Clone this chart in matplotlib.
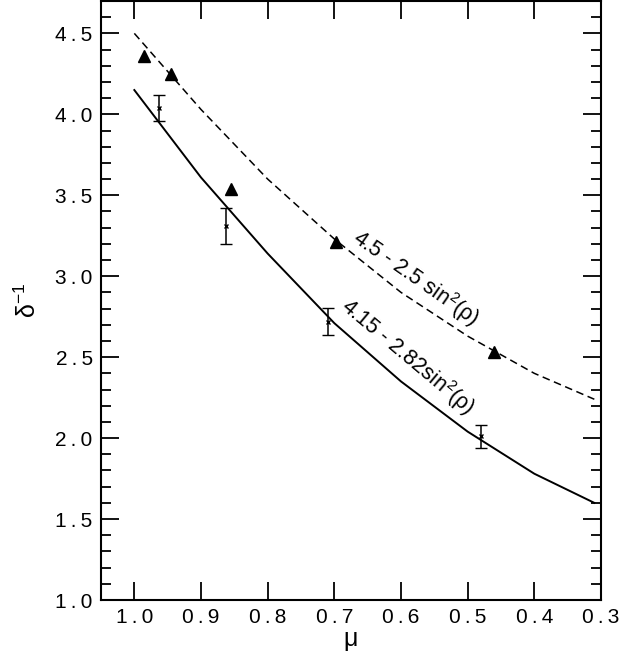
import matplotlib
matplotlib.use('Agg')
import matplotlib.pyplot as plt
from matplotlib.ticker import MultipleLocator

# ── Data ─────────────────────────────────────────────────────────────────────
MU_CURVE     = [1.0, 0.9, 0.8, 0.7, 0.6, 0.5, 0.4, 0.31]
SOLID_CURVE  = [4.15, 3.61, 3.14, 2.71, 2.35, 2.04, 1.78, 1.60]
DASHED_CURVE = [4.50, 4.03, 3.60, 3.23, 2.90, 2.63, 2.40, 2.24]

MU_TRI  = [0.985, 0.945, 0.855, 0.697, 0.46]
TRI_VAL = [4.36, 4.25, 3.54, 3.21, 2.53]

MU_ERR  = [0.963, 0.862, 0.71, 0.48]
ERR_VAL = [4.04, 3.31, 2.72, 2.01]
ERR_BAR = [0.08, 0.11, 0.085, 0.07]

LABEL_DASHED = '4.5 - 2.5 sin$^{2}$(\u03c1)'
LABEL_SOLID  = '4.15 - 2.82sin$^{2}$(\u03c1)'

plt.rcParams['font.family'] = ['Liberation Sans', 'DejaVu Sans']
plt.rcParams['mathtext.fontset'] = 'custom'
plt.rcParams['mathtext.rm'] = 'Liberation Sans'
plt.rcParams['mathtext.it'] = 'Liberation Sans:italic'
plt.rcParams['mathtext.default'] = 'regular'

fig = plt.figure(figsize=(6.22, 6.56), dpi=100)
ax = fig.add_axes([101 / 622, 56 / 656, 500 / 622, 599 / 656])

ax.plot(MU_CURVE, SOLID_CURVE, color='black', lw=1.4)
ax.plot(MU_CURVE, DASHED_CURVE, color='black', lw=1.1, dashes=(5, 3))
ax.plot(MU_TRI, TRI_VAL, ls='none', marker='^', color='black', markersize=8)
ax.errorbar(MU_ERR, ERR_VAL, yerr=ERR_BAR, fmt='x', color='black',
            markersize=3.5, mew=1.0, elinewidth=1.1, capsize=4, capthick=1.1)

ax.text(0.578, 2.99, LABEL_DASHED, rotation=-35, rotation_mode='anchor',
        ha='center', va='center', fontsize=15.5)
ax.text(0.59, 2.50, LABEL_SOLID, rotation=-40, rotation_mode='anchor',
        ha='center', va='center', fontsize=15.5)


def spaced(v, p):
    return f'{v:.1f}'.replace('.', '\u2009.\u2009')


ax.set_xlim(1.05, 0.3)
ax.set_ylim(1.0, 4.70)
ax.xaxis.set_major_locator(MultipleLocator(0.1))
ax.yaxis.set_major_locator(MultipleLocator(0.5))
ax.yaxis.set_minor_locator(MultipleLocator(0.1))
ax.xaxis.set_major_formatter(plt.FuncFormatter(spaced))
ax.yaxis.set_major_formatter(plt.FuncFormatter(spaced))

ax.tick_params(which='both', direction='in', top=True, right=True,
               labelsize=15, width=1.3, pad=6)
ax.tick_params(which='major', length=13)
ax.tick_params(which='minor', length=7)
for s in ax.spines.values():
    s.set_linewidth(1.5)

ax.set_xlabel('\u03bc', fontsize=18, labelpad=0)
ax.set_ylabel('\u03b4$^{-1}$', fontsize=18, labelpad=10)

fig.savefig('out.png', dpi=100)
